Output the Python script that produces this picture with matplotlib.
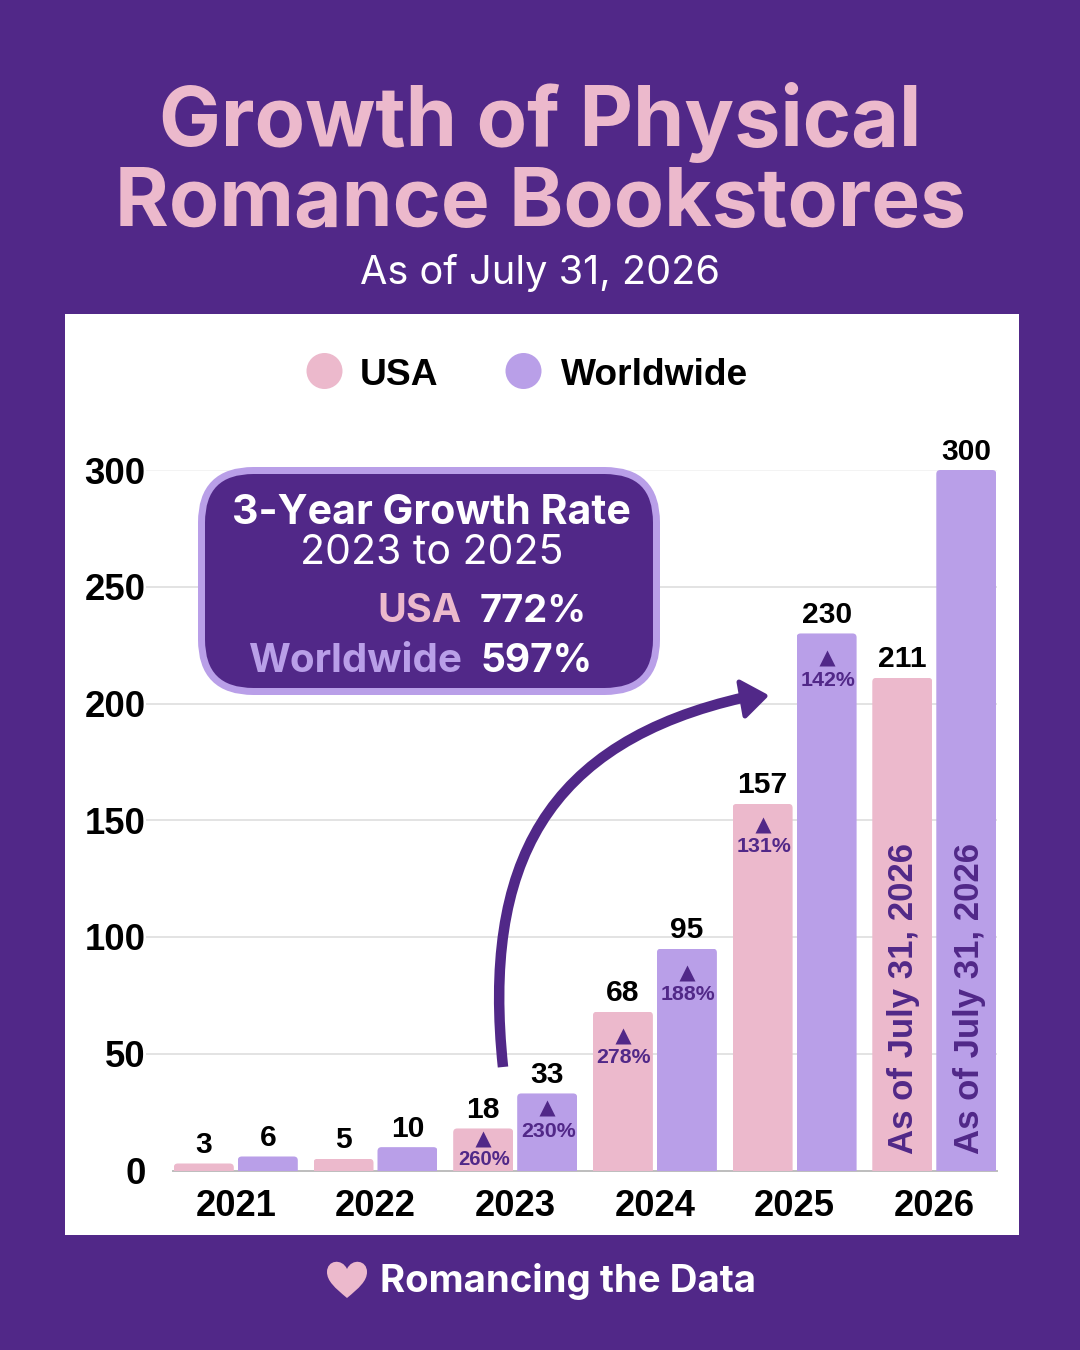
import matplotlib
matplotlib.use("Agg")
import matplotlib.pyplot as plt
from matplotlib.patches import Rectangle, Circle, FancyBboxPatch, PathPatch, Polygon
from matplotlib.path import Path

# ---- data ----
years = ["2021", "2022", "2023", "2024", "2025", "2026"]
usa = [3, 5, 18, 68, 157, 211]
world = [6, 10, 33, 95, 230, 300]
usa_growth = [None, None, "260%", "278%", "131%", None]
world_growth = [None, None, "230%", "188%", "142%", None]
yticks = [0, 50, 100, 150, 200, 250, 300]

# ---- style ----
PURPLE = "#512888"
PINK = "#ECB9CC"
LAV = "#B99FE8"
W, H = 1080, 1350
DISPLAY = "Inter"
ARIAL = "Liberation Sans"
px = 72 / 100  # points per pixel

fig = plt.figure(figsize=(W / 100, H / 100), dpi=100, facecolor=PURPLE)
fig.patches.append(Rectangle((65 / W, 1 - 1234.5 / H), 954 / W, 920.5 / H, transform=fig.transFigure,
                             facecolor="white", edgecolor="none", zorder=-5))

# ---- main chart ----
L, R, T, B = 146, 997, 470, 1170.5
CX0 = 235.8
ax = fig.add_axes([L / W, 1 - B / H, (R - L) / W, (B - T) / H], facecolor="none")
step = 139.7
ax.set_xlim((L - CX0) / step, (R - CX0) / step)
ax.set_ylim(0, 300)
x = list(range(len(years)))
off = 32 / step
bw = 60 / step
aspect = (300 / (B - T)) * step

bars_u = ax.bar([i - off for i in x], usa, bw, color=PINK, zorder=3, label="USA")
bars_w = ax.bar([i + off for i in x], world, bw, color=LAV, zorder=3, label="Worldwide")

for bar in list(bars_u) + list(bars_w):
    clip = FancyBboxPatch((bar.get_x(), -20), bar.get_width(), bar.get_height() + 20,
                          boxstyle=f"round,pad=0,rounding_size={4 / step}",
                          mutation_aspect=aspect, transform=ax.transData)
    bar.set_clip_path(clip)

ax.set_yticks(yticks)
ax.set_yticklabels([str(v) for v in yticks], fontfamily=ARIAL, fontweight="bold", fontsize=26.3, color="black")
ax.set_xticks(x)
ax.set_xticklabels(years, fontfamily=ARIAL, fontweight="bold", fontsize=26.2, color="black")
ax.tick_params(axis="both", length=0)
ax.tick_params(axis="y", pad=0.2)
ax.tick_params(axis="x", pad=13)
for s in ["top", "right", "left"]:
    ax.spines[s].set_visible(False)
ax.spines["bottom"].set_color("#BDBDBD")
ax.spines["bottom"].set_linewidth(1.4)
ax.spines["bottom"].set_bounds((173 - CX0) / step, (R - CX0) / step)
for v in yticks[1:]:
    ax.axhline(v, color="#F3F3F3" if v == 300 else "#E3E3E3", lw=1.4, zorder=1)

def val_label(xv, yv, s):
    ax.annotate(s, (xv, yv), xytext=(0, 10.5 * px), textcoords="offset points", ha="center", va="baseline",
                fontfamily=ARIAL, fontweight="bold", fontsize=21.6, color="black", zorder=5)

for i in x:
    val_label(i - off, usa[i], str(usa[i]))
    val_label(i + off, world[i], str(world[i]))

# growth markers: (triangle offset, label offset, font size) below the bar top, in pixels
g_layout = {
    ("u", 2): (11, 31, 14.6), ("w", 2): (15, 38, 15.4),
    ("u", 3): (24, 46, 15.4), ("w", 3): (24, 46, 15.4),
    ("u", 4): (21, 43, 15.4), ("w", 4): (25, 47, 15.4),
}
def growth(key, i, xv, yv, s):
    t, l, fs = g_layout[(key, i)]
    ax.plot([xv], [yv - t * 300 / (B - T)], marker="^", ms=15 * px * 1.05, color=PURPLE, mec="none", zorder=5)
    ax.annotate(s, (xv, yv), xytext=(1 * px, -l * px), textcoords="offset points", ha="center", va="center",
                fontfamily=ARIAL, fontweight="bold", fontsize=fs, color=PURPLE, zorder=5)

for i in x:
    if usa_growth[i]:
        growth("u", i, i - off, usa[i], usa_growth[i])
    if world_growth[i]:
        growth("w", i, i + off, world[i], world_growth[i])

for xv in (5 - off + 1.5 / step, 5 + off + 3.5 / step):
    ax.text(xv, 7, "As of July 31, 2026", rotation=90, ha="center", va="bottom",
            fontfamily=ARIAL, fontweight="bold", fontsize=25.05, color=PURPLE, zorder=5)

# ---- overlay in pixel coordinates ----
ov = fig.add_axes([0, 0, 1, 1], facecolor="none")
ov.set_xlim(0, W)
ov.set_ylim(H, 0)
ov.axis("off")
fig.canvas.draw()
rend = fig.canvas.get_renderer()

def fit(s, x0, x1, y, color, weight="bold", family=DISPLAY, start=30):
    t = ov.text((x0 + x1) / 2, y, s, ha="center", va="center_baseline", color=color,
                fontfamily=family, fontweight=weight, fontsize=start, zorder=10)
    w = t.get_window_extent(rend).width
    t.set_fontsize(start * (x1 - x0) / w)
    return t

fit("Growth of Physical", 159, 922, 114, PINK)
fit("Romance Bookstores", 115, 966, 196, PINK)
fit("As of July 31, 2026", 360, 720, 269, "white", weight="normal")

# legend
ov.add_patch(Circle((324.5, 371), 18, color=PINK, lw=0))
ov.add_patch(Circle((523.5, 371), 18, color=LAV, lw=0))
ov.text(360, 375.5, "USA", ha="left", va="center", fontfamily=ARIAL, fontweight="bold", fontsize=26.7, color="black")
ov.text(560.5, 375.5, "Worldwide", ha="left", va="center", fontfamily=ARIAL, fontweight="bold", fontsize=26.7, color="black")

# callout box
ov.add_patch(FancyBboxPatch((201.5, 470.5), 455, 221, boxstyle="round,pad=0,rounding_size=52",
                            facecolor=PURPLE, edgecolor=LAV, lw=7 * px, zorder=6))
fit("3-Year Growth Rate", 232, 631, 509.5, "white")
fit("2023 to 2025", 300, 563, 549.5, "white", weight="normal")
fit("USA", 378, 462, 608, PINK)
fit("772%", 480, 587, 608, "white")
fit("Worldwide", 248, 462, 658, LAV)
fit("597%", 481, 593, 658, "white")

# arrow
curve = Path([(503, 1067), (482, 865), (545, 742), (746, 697)],
             [Path.MOVETO, Path.CURVE4, Path.CURVE4, Path.CURVE4])
ov.add_patch(PathPatch(curve, facecolor="none", edgecolor=PURPLE, lw=10.5 * px, capstyle="butt", zorder=7))
ov.add_patch(Polygon([(739, 682), (765, 696), (745, 716)], closed=True, facecolor=PURPLE,
                     edgecolor=PURPLE, lw=5 * px, joinstyle="round", zorder=7))

# footer
heart = Path([(347, 1298), (335, 1288), (327, 1281), (327, 1272),
              (327, 1260), (342, 1258), (347, 1269),
              (352, 1258), (367, 1260), (367, 1272),
              (367, 1281), (359, 1288), (347, 1298)],
             [Path.MOVETO] + [Path.CURVE4] * 12)
ov.add_patch(PathPatch(heart, facecolor=PINK, edgecolor="none", zorder=10))
fit("Romancing the Data", 380, 757, 1277.5, "white")

fig.savefig("out.png", dpi=100, facecolor=PURPLE)
